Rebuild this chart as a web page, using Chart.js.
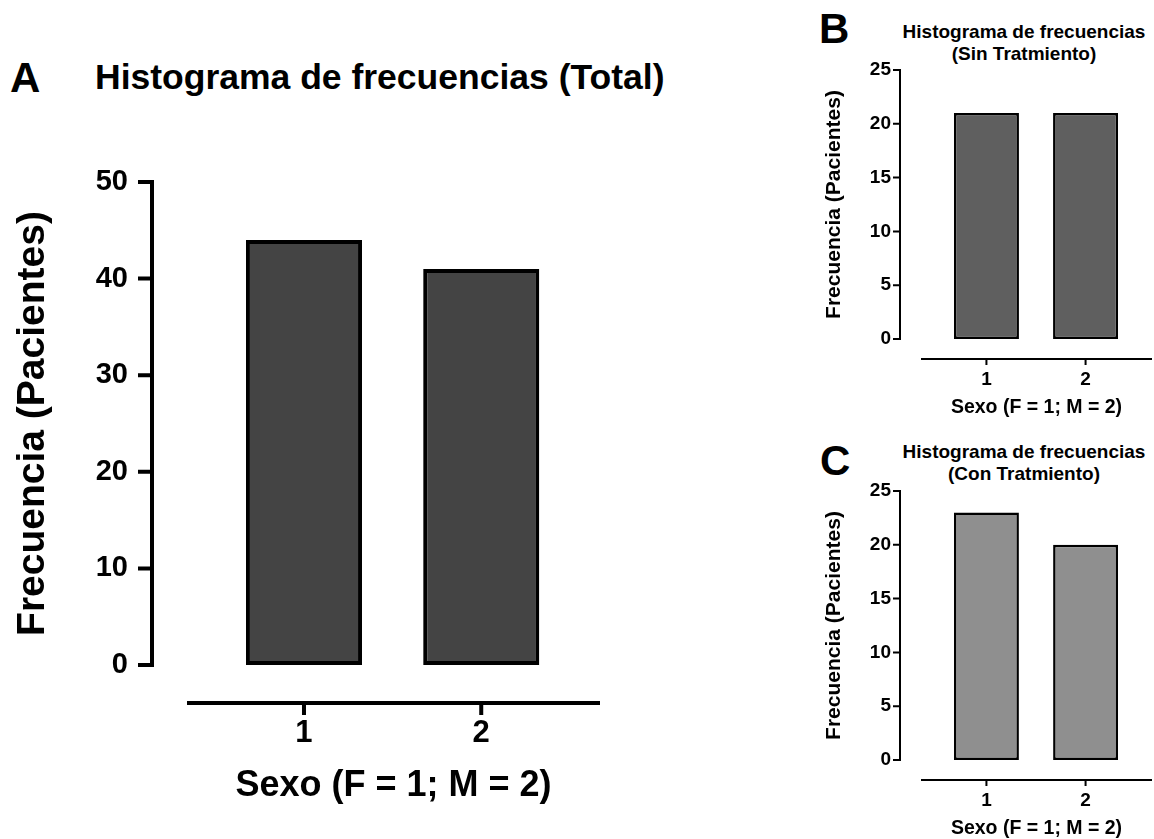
<!DOCTYPE html>
<html>
<head>
<meta charset="utf-8">
<script src="https://cdn.jsdelivr.net/npm/chart.js@4"></script>
<style>
  html, body { margin: 0; padding: 0; background: #fff; overflow: hidden; }
  body { width: 1154px; height: 839px; position: relative; font-family: "Liberation Sans", Arial, sans-serif; }
  canvas { position: absolute; }
  .lbl { position: absolute; font-weight: bold; line-height: 1; white-space: nowrap; color: #000; }
  .sub { position: absolute; font-weight: bold; font-size: 19px; line-height: 22px; text-align: center;
         white-space: nowrap; transform: translateX(-50%); color: #000; }
</style>
</head>
<body>
<div class="lbl" style="left:10px; top:57px; font-size:42px;">A</div>
<div class="lbl" style="left:95px; top:60px; font-size:35.5px;">Histograma de frecuencias (Total)</div>
<div class="lbl" style="left:819px; top:8px; font-size:42px;">B</div>
<div class="sub" style="left:1024px; top:21px;">Histograma de frecuencias<br>(Sin Tratmiento)</div>
<div class="lbl" style="left:820px; top:440px; font-size:42px;">C</div>
<div class="sub" style="left:1024px; top:441px;">Histograma de frecuencias<br>(Con Tratmiento)</div>

<canvas id="chartA" width="700" height="839" style="left:0; top:0;"></canvas>
<canvas id="chartB" width="354" height="420" style="left:800px; top:0;"></canvas>
<canvas id="chartC" width="354" height="420" style="left:800px; top:421px;"></canvas>

<script>
// ---- data ----
const sexo = [1, 2];                 // F = 1; M = 2
const totalCounts = [44, 41];
const sinTratCounts = [21, 21];
const conTratCounts = [23, 20];
const xRange = [0.34, 2.67];
const yTotalMax = 50, yTotalStep = 10;
const ySubMax = 25, ySubStep = 5;

const FONT = '"Liberation Sans", Arial, sans-serif';

// Prism-style detached axes, drawn from the chart's own scales
const prismAxes = {
    id: 'prismAxes',
    afterDatasetsDraw(chart, args, o) {
        const { ctx, chartArea, scales: { x, y } } = chart;
        ctx.save();
        ctx.strokeStyle = '#000';
        ctx.lineWidth = o.width;
        ctx.lineCap = 'butt';
        ctx.beginPath();
        const ax = chartArea.left - o.gapX;
        ctx.moveTo(ax, y.getPixelForValue(y.max) - o.width / 2);
        ctx.lineTo(ax, y.getPixelForValue(y.min) + o.width / 2);
        y.ticks.forEach(t => {
            const py = y.getPixelForValue(t.value);
            ctx.moveTo(ax - o.tickY, py);
            ctx.lineTo(ax, py);
        });
        const ay = chartArea.bottom + o.gapY;
        ctx.moveTo(x.left, ay);
        ctx.lineTo(x.right, ay);
        x.ticks.forEach(t => {
            const px = x.getPixelForValue(t.value);
            ctx.moveTo(px, ay);
            ctx.lineTo(px, ay + o.tickX);
        });
        ctx.stroke();
        ctx.restore();
    }
};

function makeChart(id, counts, s) {
    return new Chart(document.getElementById(id), {
        type: 'bar',
        data: {
            datasets: [{
                data: sexo.map((v, i) => ({ x: v, y: counts[i] })),
                backgroundColor: s.fill,
                borderColor: '#000',
                borderWidth: s.border,
                borderSkipped: false,
                categoryPercentage: 1,
                barPercentage: 0.655
            }]
        },
        options: {
            responsive: false,
            animation: false,
            events: [],
            layout: { padding: { top: s.top, right: s.right, left: 0, bottom: 0 } },
            plugins: {
                legend: { display: false },
                tooltip: { enabled: false },
                title: { display: false },
                prismAxes: s.axes
            },
            scales: {
                x: {
                    type: 'linear',
                    offset: false,
                    bounds: 'data',
                    grace: 0,
                    min: xRange[0],
                    max: xRange[1],
                    afterBuildTicks: sc => { sc.ticks = sexo.map(v => ({ value: v })); },
                    afterFit: sc => { sc.height = s.xHeight; },
                    grid: { display: false, drawTicks: false, offset: false },
                    border: { display: false },
                    ticks: {
                        color: '#000',
                        padding: s.xTickPad,
                        font: { family: FONT, weight: 'bold', size: s.xTickSize }
                    },
                    title: {
                        display: true,
                        text: 'Sexo (F = 1; M = 2)',
                        color: '#000',
                        padding: { top: 0, bottom: s.xTitlePad },
                        font: { family: FONT, weight: 'bold', size: s.xTitleSize }
                    }
                },
                y: {
                    min: 0,
                    max: s.yMax,
                    afterFit: sc => { sc.width = s.yWidth; },
                    grid: { display: false, drawTicks: false },
                    border: { display: false },
                    ticks: {
                        stepSize: s.yStep,
                        color: '#000',
                        padding: s.yTickPad,
                        font: { family: FONT, weight: 'bold', size: s.yTickSize }
                    },
                    title: {
                        display: true,
                        text: 'Frecuencia (Pacientes)',
                        color: '#000',
                        padding: { top: s.yTitlePad, bottom: 0 },
                        font: { family: FONT, weight: 'bold', size: s.yTitleSize }
                    }
                }
            }
        },
        plugins: [prismAxes]
    });
}

const bigStyle = {
    fill: '#444444', border: 4, top: 182, right: 100, yWidth: 187, xHeight: 174,
    yMax: yTotalMax, yStep: yTotalStep,
    yTickSize: 29, yTickPad: 59, yTitleSize: 39, yTitlePad: 10,
    xTickSize: 31, xTickPad: 50, xTitleSize: 36, xTitlePad: 31,
    axes: { width: 4, gapX: 35, tickY: 14, gapY: 38, tickX: 12 }
};
const smallStyle = {
    border: 2.5, top: 70, right: 2, yWidth: 121, xHeight: 81,
    yMax: ySubMax, yStep: ySubStep,
    yTickSize: 19, yTickPad: 30, yTitleSize: 21, yTitlePad: 22,
    xTickSize: 19, xTickPad: 29, xTitleSize: 19.5, xTitlePad: 1,
    axes: { width: 2, gapX: 21, tickY: 7, gapY: 20, tickX: 6 }
};

makeChart('chartA', totalCounts, bigStyle);
makeChart('chartB', sinTratCounts, { ...smallStyle, fill: '#5f5f5f' });
makeChart('chartC', conTratCounts, { ...smallStyle, fill: '#8f8f8f' });
</script>
</body>
</html>
